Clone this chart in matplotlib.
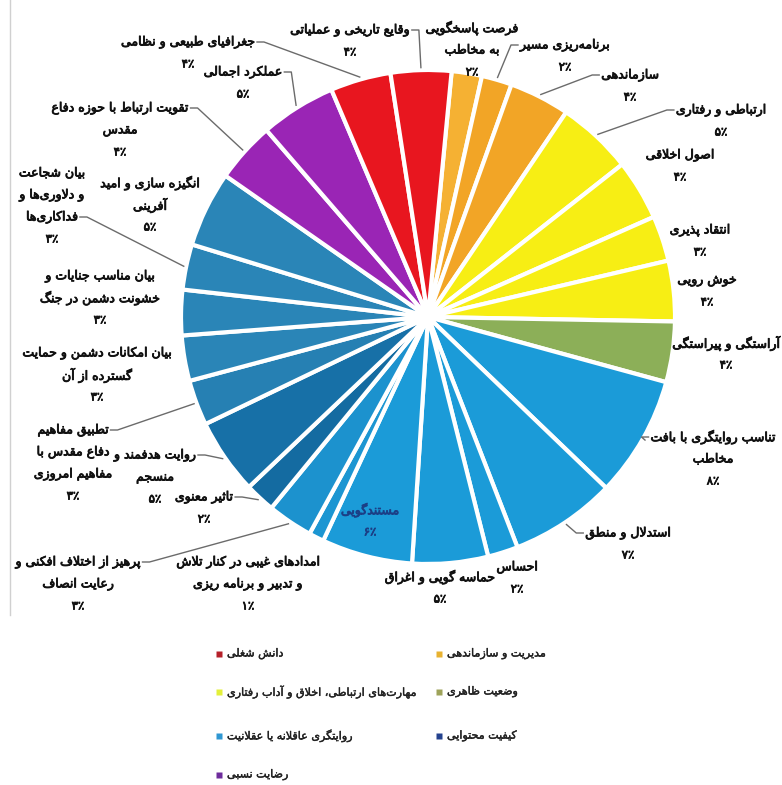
import math
import matplotlib
matplotlib.use('Agg')
import matplotlib.pyplot as plt
import matplotlib.patheffects as pe

W, H = 782, 785

# --- data (clockwise from the top) ---
labels = [
    "فرصت پاسخگویی\nبه مخاطب",
    "برنامه‌ریزی مسیر",
    "سازماندهی",
    "ارتباطی و رفتاری",
    "اصول اخلاقی",
    "انتقاد پذیری",
    "خوش رویی",
    "آراستگی و پیراستگی",
    "تناسب روایتگری با بافت\nمخاطب",
    "استدلال و منطق",
    "احساس",
    "حماسه گویی و اغراق",
    "مستندگویی",
    "امدادهای غیبی در کنار تلاش\nو تدبیر و برنامه ریزی",
    "پرهیز از اختلاف افکنی و\nرعایت انصاف",
    "تاثیر معنوی",
    "روایت هدفمند و\nمنسجم",
    "تطبیق مفاهیم\nدفاع مقدس با\nمفاهیم امروزی",
    "بیان امکانات دشمن و حمایت\nگسترده از آن",
    "بیان مناسب جنایات و\nخشونت دشمن در جنگ",
    "بیان شجاعت\nو دلاوری‌ها و\nفداکاری‌ها",
    "انگیزه سازی و امید\nآفرینی",
    "تقویت ارتباط با حوزه دفاع\nمقدس",
    "عملکرد اجمالی",
    "جغرافیای طبیعی و نظامی",
    "وقایع تاریخی و عملیاتی",
]
values = [2, 2, 4, 5, 4, 3, 4, 4, 8, 7, 2, 5, 6, 1, 3, 2, 5, 3, 3, 3, 3, 5, 4, 5, 4, 4]
slice_colors = ['#F5B133', '#F2A526', '#F2A526', '#F7EE14', '#F7EE14', '#F7EE14', '#F7EE14',
                '#8CAF58', '#1B9BD8', '#1B9BD8', '#1B9BD8', '#1B9BD8', '#1B9BD8', '#1C96D2',
                '#1C92CE', '#146BA1', '#1770A7', '#2680B3', '#2A85B7', '#2A85B7', '#2A85B7',
                '#2A85B7', '#9A25B5', '#9A25B5', '#E8161F', '#E8161F']

legend_labels = ["مدیریت و سازماندهی", "وضعیت ظاهری", "کیفیت محتوایی",
                 "دانش شغلی", "مهارت‌های ارتباطی، اخلاق و آداب رفتاری",
                 "روایتگری عاقلانه یا عقلانیت", "رضایت نسبی"]
legend_colors = ['#E8B230', '#9EA35A', '#24428E', '#B5202A', '#E3F03A', '#2F97D2', '#6E2C9C']

# --- layout (image pixels) ---
label_pos = [(472, 28), (565, 45), (630, 75), (721, 110), (680, 155), (700, 230), (707, 280),
             (726, 343), (713, 437), (628, 533), (517, 567), (440, 577), (370, 510), (248, 562),
             (78, 562), (204, 497), (155, 455), (73, 430), (97, 353), (100, 276), (52, 173),
             (150, 183), (120, 108), (243, 72), (188, 42), (350, 30)]
leaders = {1: ('L', 0), 2: ('L', 0), 3: ('L', 0), 8: ('L', 0), 9: ('L', 0), 14: ('R', 0),
           15: ('R', 0), 16: ('R', 0), 17: ('R', 0), 20: ('R', 2), 22: ('R', 0), 23: ('R', 0),
           24: ('R', 0), 25: ('R', 0)}
legend_pos = [(439, 654), (439, 692), (439, 736), (219, 654), (219, 692), (219, 736), (219, 775)]

# --- Persian shaping (matplotlib has no complex text layout) ---
DUAL = {
    0x0628: (0xFE8F, 0xFE90, 0xFE91, 0xFE92), 0x067E: (0xFB56, 0xFB57, 0xFB58, 0xFB59),
    0x062A: (0xFE95, 0xFE96, 0xFE97, 0xFE98), 0x062B: (0xFE99, 0xFE9A, 0xFE9B, 0xFE9C),
    0x062C: (0xFE9D, 0xFE9E, 0xFE9F, 0xFEA0), 0x0686: (0xFB7A, 0xFB7B, 0xFB7C, 0xFB7D),
    0x062D: (0xFEA1, 0xFEA2, 0xFEA3, 0xFEA4), 0x062E: (0xFEA5, 0xFEA6, 0xFEA7, 0xFEA8),
    0x0633: (0xFEB1, 0xFEB2, 0xFEB3, 0xFEB4), 0x0634: (0xFEB5, 0xFEB6, 0xFEB7, 0xFEB8),
    0x0635: (0xFEB9, 0xFEBA, 0xFEBB, 0xFEBC), 0x0636: (0xFEBD, 0xFEBE, 0xFEBF, 0xFEC0),
    0x0637: (0xFEC1, 0xFEC2, 0xFEC3, 0xFEC4), 0x0638: (0xFEC5, 0xFEC6, 0xFEC7, 0xFEC8),
    0x0639: (0xFEC9, 0xFECA, 0xFECB, 0xFECC), 0x063A: (0xFECD, 0xFECE, 0xFECF, 0xFED0),
    0x0641: (0xFED1, 0xFED2, 0xFED3, 0xFED4), 0x0642: (0xFED5, 0xFED6, 0xFED7, 0xFED8),
    0x06A9: (0xFB8E, 0xFB8F, 0xFB90, 0xFB91), 0x0643: (0xFED9, 0xFEDA, 0xFEDB, 0xFEDC),
    0x06AF: (0xFB92, 0xFB93, 0xFB94, 0xFB95), 0x0644: (0xFEDD, 0xFEDE, 0xFEDF, 0xFEE0),
    0x0645: (0xFEE1, 0xFEE2, 0xFEE3, 0xFEE4), 0x0646: (0xFEE5, 0xFEE6, 0xFEE7, 0xFEE8),
    0x0647: (0xFEE9, 0xFEEA, 0xFEEB, 0xFEEC), 0x06CC: (0xFBFC, 0xFBFD, 0xFBFE, 0xFBFF),
    0x064A: (0xFEF1, 0xFEF2, 0xFEF3, 0xFEF4), 0x0626: (0xFE89, 0xFE8A, 0xFE8B, 0xFE8C),
}
RIGHT = {
    0x0627: (0xFE8D, 0xFE8E), 0x0622: (0xFE81, 0xFE82), 0x0623: (0xFE83, 0xFE84),
    0x062F: (0xFEA9, 0xFEAA), 0x0630: (0xFEAB, 0xFEAC), 0x0631: (0xFEAD, 0xFEAE),
    0x0632: (0xFEAF, 0xFEB0), 0x0698: (0xFB8A, 0xFB8B), 0x0648: (0xFEED, 0xFEEE),
}
LAM_ALEF = {0x0627: (0xFEFB, 0xFEFC), 0x0622: (0xFEF5, 0xFEF6)}


def fa(text):
    cs = [ord(c) for c in text]
    out = []
    i = 0
    while i < len(cs):
        c = cs[i]
        prev_joins = i > 0 and cs[i - 1] in DUAL
        if c == 0x0644 and i + 1 < len(cs) and cs[i + 1] in LAM_ALEF:
            out.append(LAM_ALEF[cs[i + 1]][1 if prev_joins else 0])
            i += 2
            continue
        if c in DUAL:
            nxt = cs[i + 1] if i + 1 < len(cs) else None
            next_joins = nxt in DUAL or nxt in RIGHT
            f = DUAL[c]
            out.append(f[3] if prev_joins and next_joins else f[1] if prev_joins
                       else f[2] if next_joins else f[0])
        elif c in RIGHT:
            out.append(RIGHT[c][1 if prev_joins else 0])
        elif c != 0x200C:
            out.append(c)
        i += 1
    return ''.join(chr(c) for c in reversed(out))


FA_DIGITS = str.maketrans('0123456789', '۰۱۲۳۴۵۶۷۸۹')


def pct(v):
    return '٪' + str(v).translate(FA_DIGITS)


def P(x, y):
    return x, H - y


fig = plt.figure(figsize=(W / 100, H / 100), dpi=100)
ax = fig.add_axes([0, 0, 1, 1])
cx, cy, r = 428, 317, 247

wedges, _ = ax.pie(values, colors=slice_colors, startangle=84.5, counterclock=False,
                   center=P(cx, cy), radius=r, frame=True,
                   wedgeprops=dict(edgecolor='white', linewidth=3))
ax.set_xlim(0, W)
ax.set_ylim(0, H)
ax.axis('off')

# thin frame line on the left
ax.plot([10, 10], [H, H - 615], color='#d0d0d0', lw=1)

step = 22
renderer = fig.canvas.get_renderer()
inv = ax.transData.inverted()
for i, (lab, v) in enumerate(zip(labels, values)):
    x0, y0 = label_pos[i]
    color = '#1b3f86' if i == 12 else '#111111'
    lines = lab.split('\n') + [pct(v)]
    texts = []
    for k, line in enumerate(lines):
        t = ax.text(*P(x0, y0 + k * step), fa(line), ha='center', va='center',
                    fontsize=9 if k < len(lines) - 1 else 8.5, color=color,
                    path_effects=[pe.withStroke(linewidth=0.6, foreground=color)])
        texts.append(t)
    if i in leaders:
        side, li = leaders[i]
        bb = texts[li].get_window_extent(renderer)
        (bx0, by0), (bx1, by1) = inv.transform([[bb.x0, bb.y0], [bb.x1, bb.y1]])
        ym = (by0 + by1) / 2
        if side == 'R':
            sx, stub = bx1 + 2, bx1 + 9
        else:
            sx, stub = bx0 - 2, bx0 - 9
        w = wedges[i]
        a = math.radians((w.theta1 + w.theta2) / 2)
        ex, ey = w.center[0] + r * 1.01 * math.cos(a), w.center[1] + r * 1.01 * math.sin(a)
        ax.plot([sx, stub, ex], [ym, ym, ey], color='#6b6b6b', lw=1)

# legend
for (mx, my), lab, col in zip(legend_pos, legend_labels, legend_colors):
    ax.plot(*P(mx, my), marker='s', ms=4.5, color=col, mec='none')
    ax.text(*P(mx + 8, my), fa(lab), ha='left', va='center', fontsize=8, color='#222222',
            path_effects=[pe.withStroke(linewidth=0.3, foreground='#222222')])

fig.savefig('out.png', dpi=100, facecolor='white')
